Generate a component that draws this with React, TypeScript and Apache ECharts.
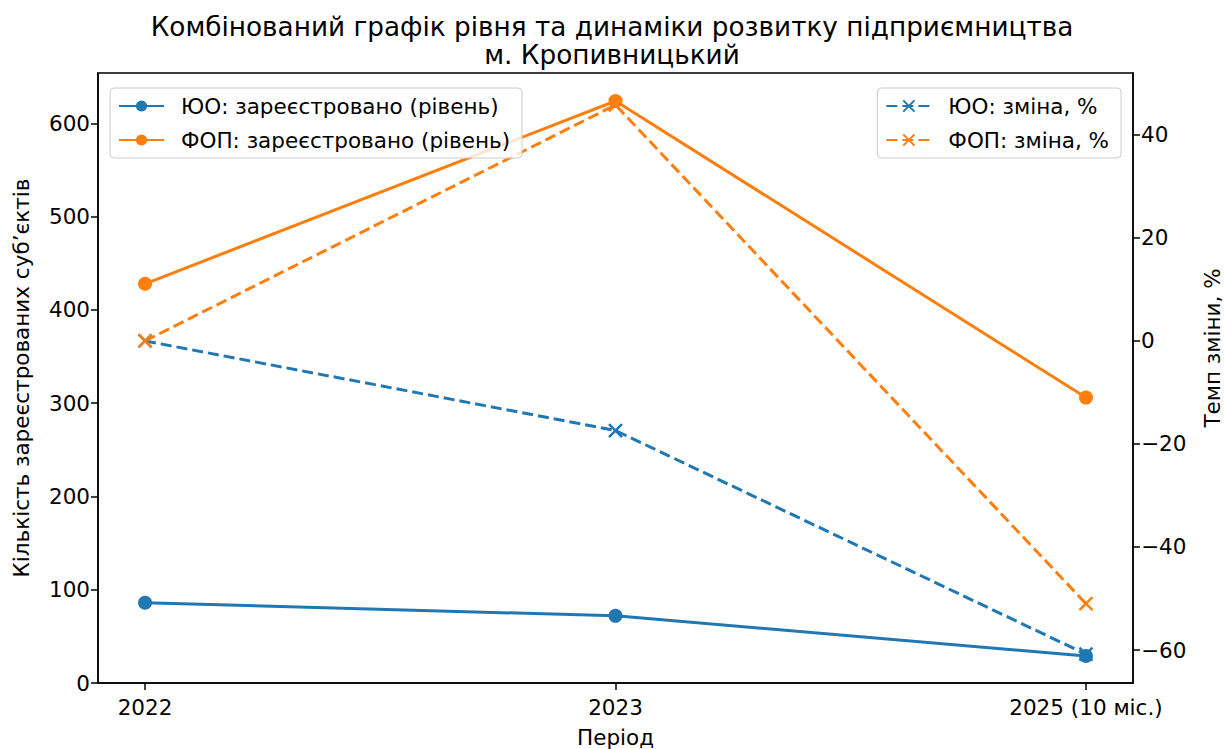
import React, { useEffect, useRef } from "react";
import * as echarts from "echarts";

const categories = ["2022", "2023", "2025 (10 міс.)"];
const yuoLevel = [86, 72, 29];
const fopLevel = [428, 624, 306];
const yuoChange = [0, -17.4, -60.8];
const fopChange = [0, 45.8, -51.0];
const leftTicks = [0, 100, 200, 300, 400, 500, 600];
const rightTicks = [-60, -40, -20, 0, 20, 40];

const BLUE = "#1f77b4";
const ORANGE = "#ff7f0e";
const FONT = "DejaVu Sans";
const FS = 21.5;

const names = {
  yl: "ЮО: зареєстровано (рівень)",
  fl: "ФОП: зареєстровано (рівень)",
  yc: "ЮО: зміна, %",
  fc: "ФОП: зміна, %",
};

export default function App() {
  const ref = useRef<HTMLDivElement>(null);
  useEffect(() => {
    document.body.style.margin = "0";
    const chart = echarts.init(ref.current!, null, { renderer: "svg" });
    const pts = (arr: number[]) => arr.map((v, i) => [i, v]);
    const legendCommon = {
      orient: "vertical" as const,
      top: 88,
      itemWidth: 45,
      itemHeight: 14,
      itemGap: 12,
      padding: [7, 12, 7, 8],
      backgroundColor: "rgba(255,255,255,0.8)",
      borderColor: "#cccccc",
      borderWidth: 1,
      borderRadius: 4,
      textStyle: { fontFamily: FONT, fontSize: FS, color: "#000", padding: [0, 0, 0, 12] },
    };
    const axisLine = { show: true, onZero: false, lineStyle: { color: "#000", width: 1.5 } };
    chart.setOption({
      animation: false,
      textStyle: { fontFamily: FONT },
      title: {
        text: "Комбінований графік рівня та динаміки розвитку підприємництва\nм. Кропивницький",
        left: "center",
        top: 8,
        textStyle: { fontFamily: FONT, fontSize: 26.3, fontWeight: "normal", color: "#000", lineHeight: 28 },
      },
      legend: [
        { ...legendCommon, left: 110, data: [names.yl, names.fl] },
        { ...legendCommon, right: 103, data: [names.yc, names.fc] },
      ],
      grid: {
        left: 98,
        right: 91,
        top: 73,
        bottom: 66,
        outerBoundsMode: "none",
        containLabel: false,
        show: true,
        borderColor: "#000",
        borderWidth: 1.5,
        backgroundColor: "transparent",
      },
      xAxis: {
        type: "value",
        min: -0.1,
        max: 2.1,
        name: "Період",
        nameLocation: "middle",
        nameGap: 43,
        nameTextStyle: { fontFamily: FONT, fontSize: FS, color: "#000" },
        axisLine,
        axisTick: { show: true, customValues: [0, 1, 2], length: 7, lineStyle: { color: "#000", width: 1.5 } },
        axisLabel: {
          customValues: [0, 1, 2],
          formatter: (v: number) => categories[Math.round(v)] ?? "",
          fontFamily: FONT,
          fontSize: FS,
          color: "#000",
          margin: 13,
        },
        splitLine: { show: false },
      },
      yAxis: [
        {
          type: "value",
          min: 0,
          max: 654,
          position: "left",
          name: "Кількість зареєстрованих суб’єктів",
          nameLocation: "middle",
          nameGap: 66,
          nameTextStyle: { fontFamily: FONT, fontSize: FS, color: "#000" },
          axisLine,
          axisTick: { show: true, customValues: leftTicks, length: 7, lineStyle: { color: "#000", width: 1.5 } },
          axisLabel: { customValues: leftTicks, fontFamily: FONT, fontSize: FS, color: "#000", margin: 8 },
          splitLine: { show: false },
        },
        {
          type: "value",
          min: -66.4,
          max: 52,
          position: "right",
          axisLine,
          axisTick: { show: true, customValues: rightTicks, length: 7, lineStyle: { color: "#000", width: 1.5 } },
          axisLabel: {
            customValues: rightTicks,
            formatter: (v: number) => (v < 0 ? "\u2212" + Math.abs(v) : String(v)),
            fontFamily: FONT,
            fontSize: FS,
            color: "#000",
            margin: 8,
          },
          splitLine: { show: false },
        },
      ],
      graphic: [
        {
          type: "text",
          x: 1212,
          y: 348,
          rotation: Math.PI / 2,
          style: {
            text: "Темп зміни, %",
            fontFamily: FONT,
            fontSize: FS,
            fill: "#000",
            align: "center",
            verticalAlign: "middle",
          },
        },
      ],
      series: [
        {
          name: names.yl,
          type: "line",
          yAxisIndex: 0,
          data: pts(yuoLevel),
          symbol: "circle",
          symbolSize: 14,
          itemStyle: { color: BLUE },
          lineStyle: { color: BLUE, width: 3 },
          z: 2,
        },
        {
          name: names.fl,
          type: "line",
          yAxisIndex: 0,
          data: pts(fopLevel),
          symbol: "circle",
          symbolSize: 14,
          itemStyle: { color: ORANGE },
          lineStyle: { color: ORANGE, width: 3 },
          z: 2,
        },
        {
          name: names.yc,
          type: "line",
          yAxisIndex: 1,
          data: pts(yuoChange),
          symbol: "path://M0,0L10,10M10,0L0,10",
          symbolSize: 13,
          itemStyle: { color: "none", borderColor: BLUE, borderWidth: 2.5 },
          lineStyle: { color: BLUE, width: 3, type: [11, 5] },
          z: 3,
        },
        {
          name: names.fc,
          type: "line",
          yAxisIndex: 1,
          data: pts(fopChange),
          symbol: "path://M0,0L10,10M10,0L0,10",
          symbolSize: 13,
          itemStyle: { color: "none", borderColor: ORANGE, borderWidth: 2.5 },
          lineStyle: { color: ORANGE, width: 3, type: [11, 5] },
          z: 3,
        },
      ],
    });
    return () => chart.dispose();
  }, []);
  return <div ref={ref} style={{ width: 1224, height: 749 }} />;
}
